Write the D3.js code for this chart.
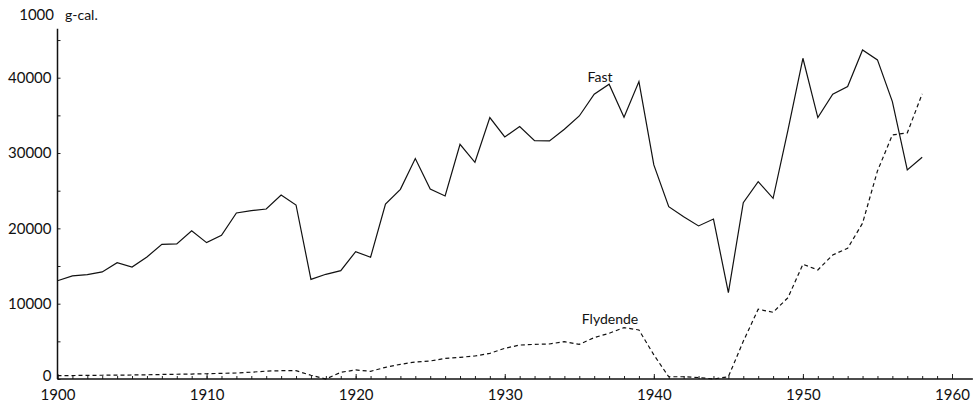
<!DOCTYPE html>
<html>
<head>
<meta charset="utf-8">
<script src="https://cdn.jsdelivr.net/npm/d3@7"></script>
<style>
body { margin: 0; background: #fff; }
text { font-family: Lato, "DejaVu Sans", sans-serif; fill: #111; }
</style>
</head>
<body>
<svg id="main" width="980" height="407"></svg>
<script>
var years = d3.range(1900, 1959);
var fast = [13050, 13680, 13850, 14210, 15450, 14870, 16200, 17880, 17930, 19690,
	18100, 19080, 22040, 22350, 22570, 24430, 23100, 13230, 13900, 14380,
	16910, 16160, 23230, 25180, 29260, 25230, 24300, 31160, 28770, 34700,
	32130, 33510, 31650, 31600, 33150, 34920, 37800, 39130, 34750, 39480,
	28420, 22880, 21550, 20320, 21240, 11460, 23410, 26200, 23990, 33060,
	42580, 34700, 37800, 38820, 43690, 42360, 36820, 27750, 29440];
var flydende = [440, 460, 480, 500, 520, 530, 560, 600, 630, 660,
	700, 750, 800, 900, 1050, 1100, 1100, 500, 0, 890,
	1200, 1020, 1550, 1950, 2260, 2390, 2740, 2880, 3050, 3410,
	4070, 4510, 4600, 4650, 4960, 4600, 5490, 6070, 6820, 6510,
	3200, 300, 300, 200, 0, 300, 5000, 9260, 8860, 10800,
	15230, 14480, 16470, 17360, 20680, 27620, 32400, 32670, 37850];
var xTicks = [1900, 1910, 1920, 1930, 1940, 1950, 1960];

var svg = d3.select("#main");
var x = d3.scaleLinear().domain([1900, 1960]).range([57.5, 952]);
var y = d3.scaleLinear().domain([0, 40000]).range([379, 77.7]);

// y axis: ticks every 5000 pointing inwards, labels every 10000
var minorY = d3.range(0, 46000, 5000);
var yAxis = svg.append("g").attr("transform", "translate(" + x(1900) + ",0)")
	.call(d3.axisLeft(y).tickValues(minorY).tickSizeInner(-3).tickSizeOuter(0).tickPadding(6)
		.tickFormat(function(d) { return d % 10000 == 0 ? d : ""; }))
	.call(function(g) { g.select(".domain").remove(); });
yAxis.selectAll("text").attr("font-size", 15).attr("font-family", "Lato, sans-serif").attr("fill", "#111")
	.attr("dy", function(d) { return d == 0 ? "0.1em" : "0.32em"; });

// x axis: small tick each year, larger tick each decade
svg.append("g").attr("transform", "translate(0," + y(0) + ")")
	.call(d3.axisBottom(x).tickValues(years.concat([1959, 1960])).tickSizeInner(-3).tickSizeOuter(0).tickFormat(""))
	.call(function(g) { g.select(".domain").remove(); });
svg.append("g").attr("transform", "translate(0," + y(0) + ")")
	.call(d3.axisBottom(x).tickValues(xTicks).tickSizeInner(-5).tickSizeOuter(0).tickPadding(10).tickFormat(d3.format("d")))
	.call(function(g) { g.select(".domain").remove(); })
	.selectAll("text").attr("font-size", 15).attr("font-family", "Lato, sans-serif").attr("fill", "#111");
svg.selectAll(".tick line").attr("stroke", "#222");

svg.append("line").attr("x1", x(1900)).attr("x2", x(1900)).attr("y1", y(46500)).attr("y2", y(0))
	.attr("stroke", "#111").attr("stroke-width", 1.5);
svg.append("line").attr("x1", x(1900)).attr("x2", x(1961.4)).attr("y1", y(0)).attr("y2", y(0))
	.attr("stroke", "#111").attr("stroke-width", 1.5);

svg.append("text").attr("x", 54).attr("y", 20).attr("text-anchor", "end").attr("font-size", 15).text("1000");
svg.append("text").attr("x", 65).attr("y", 20).attr("font-size", 14).text("g-cal.");

var line = d3.line().x(function(d, i) { return x(years[i]); }).y(function(d) { return y(d); });
svg.append("path").datum(fast).attr("d", line).attr("fill", "none").attr("stroke", "#111").attr("stroke-width", 1.2);
svg.append("path").datum(flydende).attr("d", line).attr("fill", "none").attr("stroke", "#111")
	.attr("stroke-width", 1.2).attr("stroke-dasharray", "4,3");

svg.append("text").attr("x", 600).attr("y", 82).attr("text-anchor", "middle").attr("font-size", 14).text("Fast");
svg.append("text").attr("x", 610).attr("y", 324).attr("text-anchor", "middle").attr("font-size", 14).text("Flydende");
</script>
</body>
</html>
